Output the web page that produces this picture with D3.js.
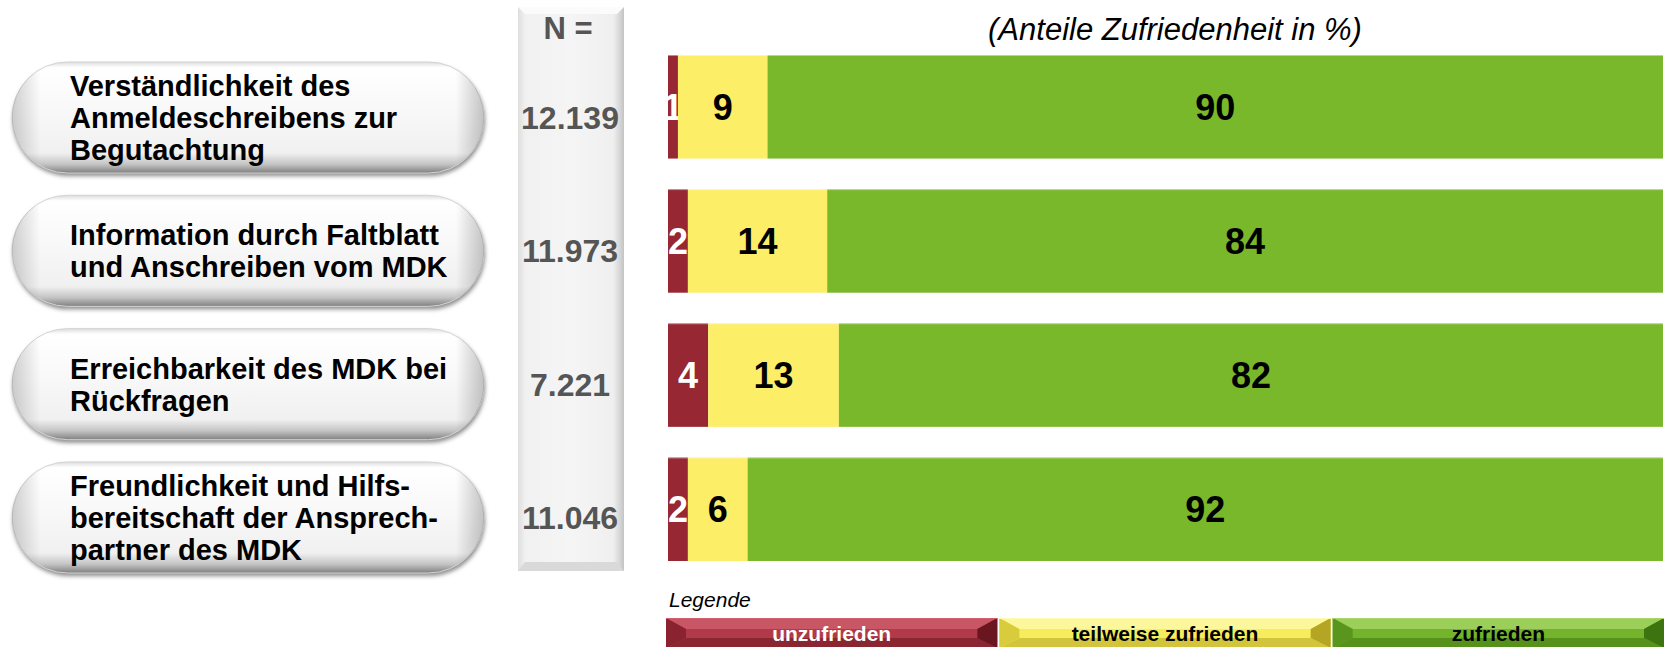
<!DOCTYPE html>
<html>
<head>
<meta charset="utf-8">
<script src="https://cdn.jsdelivr.net/npm/d3@7"></script>
<style>
  body { margin: 0; background: #fff; }
  svg { display: block; font-family: "Liberation Sans", Arial, sans-serif; }
</style>
</head>
<body>
<svg id="chart" width="1665" height="647"></svg>
<script>
// chart data
const categories = [
  "Verständlichkeit des\nAnmeldeschreibens zur\nBegutachtung",
  "Information durch Faltblatt\nund Anschreiben vom MDK",
  "Erreichbarkeit des MDK bei\nRückfragen",
  "Freundlichkeit und Hilfs-\nbereitschaft der Ansprech-\npartner des MDK"
];
const nValues = [12139, 11973, 7221, 11046];
const unzufrieden = [1, 2, 4, 2];
const teilweise = [9, 14, 13, 6];
const zufrieden = [90, 84, 82, 92];
const seriesNames = ["unzufrieden", "teilweise zufrieden", "zufrieden"];

const colors = ["#962733", "#fdee67", "#79b82a"];
const labelColors = ["#ffffff", "#000000", "#000000"];

const svg = d3.select("#chart");
const defs = svg.append("defs");

const de = d3.formatLocale({decimal: ",", thousands: ".", grouping: [3], currency: ["", " €"]});
const fmtN = de.format(",d");

// rows for stacking
const rows = categories.map((c, i) => ({
  cat: c,
  "unzufrieden": unzufrieden[i],
  "teilweise zufrieden": teilweise[i],
  "zufrieden": zufrieden[i]
}));
const stack = d3.stack().keys(seriesNames).offset(d3.stackOffsetExpand);
const stacked = stack(rows);

// scales
const x = d3.scaleLinear().domain([0, 1]).range([668, 1663]);
const yBar = d3.scaleBand().domain(categories).range([55, 561]).paddingInner(0.228);
const yPill = d3.scaleBand().domain(categories).range([62, 573]).paddingInner(0.167);

// ---- gradients
function vGrad(id, stops) {
  const g = defs.append("linearGradient").attr("id", id)
    .attr("x1", 0).attr("y1", 0).attr("x2", 0).attr("y2", 1);
  stops.forEach(s => g.append("stop").attr("offset", s[0]).attr("stop-color", s[1]));
}
function hGrad(id, stops) {
  const g = defs.append("linearGradient").attr("id", id)
    .attr("x1", 0).attr("y1", 0).attr("x2", 1).attr("y2", 0);
  stops.forEach(s => g.append("stop").attr("offset", s[0]).attr("stop-color", s[1]));
}
vGrad("pillFill", [[0, "#dcdcdc"], [0.05, "#ffffff"], [0.45, "#f8f8f8"], [0.82, "#f0f0f0"], [0.92, "#c4c4c4"], [1, "#808080"]]);
hGrad("pillSide", [[0, "rgba(0,0,0,0.18)"], [0.06, "rgba(0,0,0,0)"], [0.94, "rgba(0,0,0,0)"], [1, "rgba(0,0,0,0.22)"]]);
hGrad("colFill", [[0, "#dedede"], [0.07, "#f1f1f1"], [0.5, "#f5f5f5"], [0.9, "#efefef"], [0.96, "#d6d6d6"], [1, "#c4c4c4"]]);

const filt = defs.append("filter").attr("id", "shadow")
  .attr("x", "-10%").attr("y", "-10%").attr("width", "120%").attr("height", "130%");
filt.append("feGaussianBlur").attr("stdDeviation", 2);

// ---- left pills
const pills = svg.append("g");
const pillX0 = 12, pillX1 = 484;
categories.forEach(c => {
  const top = yPill(c), h = yPill.bandwidth();
  pills.append("rect")
    .attr("x", pillX0 + 1).attr("y", top + 3)
    .attr("width", pillX1 - pillX0).attr("height", h)
    .attr("rx", h / 2).attr("fill", "#8c8c8c").attr("filter", "url(#shadow)");
  pills.append("rect")
    .attr("x", pillX0).attr("y", top)
    .attr("width", pillX1 - pillX0).attr("height", h)
    .attr("rx", h / 2).attr("fill", "url(#pillFill)")
    .attr("stroke", "#d4d4d4").attr("stroke-width", 1);
  pills.append("rect")
    .attr("x", pillX0).attr("y", top)
    .attr("width", pillX1 - pillX0).attr("height", h)
    .attr("rx", h / 2).attr("fill", "url(#pillSide)");

  const lines = c.split("\n");
  const cy = top + h / 2;
  const lh = 32, fs = 29;
  const t = pills.append("text")
    .attr("font-size", fs).attr("font-weight", "bold").attr("fill", "#000");
  lines.forEach((ln, i) => {
    t.append("tspan")
      .attr("x", 70)
      .attr("y", cy + (i - (lines.length - 1) / 2) * lh + fs * 0.358)
      .text(ln);
  });
});

// ---- N column
const col = svg.append("g");
col.append("rect").attr("x", 518).attr("y", 7).attr("width", 106).attr("height", 564)
  .attr("fill", "url(#colFill)");
col.append("polygon")
  .attr("points", "518,7 624,7 617,14 525,14").attr("fill", "#fbfbfb");
col.append("polygon")
  .attr("points", "518,571 624,571 617,562 525,562").attr("fill", "#d9d9d9");
col.append("text")
  .attr("x", 568).attr("y", 39)
  .attr("text-anchor", "middle").attr("font-size", 31).attr("font-weight", "bold")
  .attr("fill", "#555555").text("N =");
col.selectAll("text.n")
  .data(categories)
  .join("text")
  .attr("class", "n")
  .attr("x", 570)
  .attr("y", d => yPill(d) + yPill.bandwidth() / 2 + 32 * 0.358)
  .attr("text-anchor", "middle").attr("font-size", 32).attr("font-weight", "bold")
  .attr("fill", "#555555")
  .text((d, i) => fmtN(nValues[i]));

// ---- title
svg.append("text")
  .attr("x", 1175).attr("y", 40)
  .attr("text-anchor", "middle").attr("font-size", 31).attr("font-style", "italic")
  .attr("fill", "#000").text("(Anteile Zufriedenheit in %)");

// ---- stacked bars
const bars = svg.append("g");
stacked.forEach((s, si) => {
  const g = bars.append("g");
  g.selectAll("rect")
    .data(s)
    .join("rect")
    .attr("x", d => x(d[0]))
    .attr("y", d => yBar(d.data.cat))
    .attr("width", d => x(d[1]) - x(d[0]))
    .attr("height", yBar.bandwidth())
    .attr("fill", colors[si]);
  g.selectAll("text")
    .data(s)
    .join("text")
    .attr("x", d => (x(d[0]) + x(d[1])) / 2)
    .attr("y", d => yBar(d.data.cat) + yBar.bandwidth() / 2 + 36 * 0.358)
    .attr("text-anchor", "middle").attr("font-size", 36).attr("font-weight", "bold")
    .attr("fill", labelColors[si])
    .text(d => d.data[s.key]);
});
// thin light rim on top of bars
bars.selectAll("line.rim")
  .data(categories)
  .join("line")
  .attr("class", "rim")
  .attr("x1", x(0)).attr("x2", x(1))
  .attr("y1", d => yBar(d) + 0.5).attr("y2", d => yBar(d) + 0.5)
  .attr("stroke", "rgba(255,255,255,0.45)").attr("stroke-width", 1);

// ---- legend
svg.append("text")
  .attr("x", 669).attr("y", 607)
  .attr("font-size", 21).attr("font-style", "italic")
  .attr("fill", "#000").text("Legende");

const legX = d3.scaleBand().domain(seriesNames).range([666, 1664]).paddingInner(0.006);
const legY0 = 618, legY1 = 648;
const bevel = [
  {light: "#d0606e", mid: "#b03a48", dark: "#6a1620", side: "#8a2230"},
  {light: "#fffbb0", mid: "#f7ec5c", dark: "#b4a624", side: "#d8cb3c"},
  {light: "#a8d86a", mid: "#74b42c", dark: "#3e7410", side: "#5a961e"}
];
const leg = svg.append("g");
seriesNames.forEach((name, i) => {
  const x0 = legX(name), x1 = x0 + legX.bandwidth();
  const ym = (legY0 + legY1) / 2, b = 20;
  const c = bevel[i];
  const g = leg.append("g");
  g.append("rect").attr("x", x0).attr("y", legY0).attr("width", x1 - x0).attr("height", legY1 - legY0)
    .attr("fill", c.mid);
  g.append("polygon").attr("points", `${x0},${legY0} ${x1},${legY0} ${x1 - b},${ym - 4} ${x0 + b},${ym - 4}`)
    .attr("fill", c.light).attr("opacity", 0.75);
  g.append("polygon").attr("points", `${x0},${legY1} ${x1},${legY1} ${x1 - b},${ym + 5} ${x0 + b},${ym + 5}`)
    .attr("fill", c.dark).attr("opacity", 0.55);
  g.append("polygon").attr("points", `${x0},${legY0} ${x0 + b},${ym - 4} ${x0 + b},${ym + 5} ${x0},${legY1}`)
    .attr("fill", c.side);
  g.append("polygon").attr("points", `${x1},${legY0} ${x1 - b},${ym - 4} ${x1 - b},${ym + 5} ${x1},${legY1}`)
    .attr("fill", c.dark);
  g.append("line").attr("x1", x0).attr("x2", x1).attr("y1", legY0 + 0.5).attr("y2", legY0 + 0.5)
    .attr("stroke", c.light).attr("stroke-width", 1);
  g.append("text")
    .attr("x", (x0 + x1) / 2).attr("y", 641)
    .attr("text-anchor", "middle").attr("font-size", 21).attr("font-weight", "bold")
    .attr("fill", labelColors[i]).text(name);
});
</script>
</body>
</html>
